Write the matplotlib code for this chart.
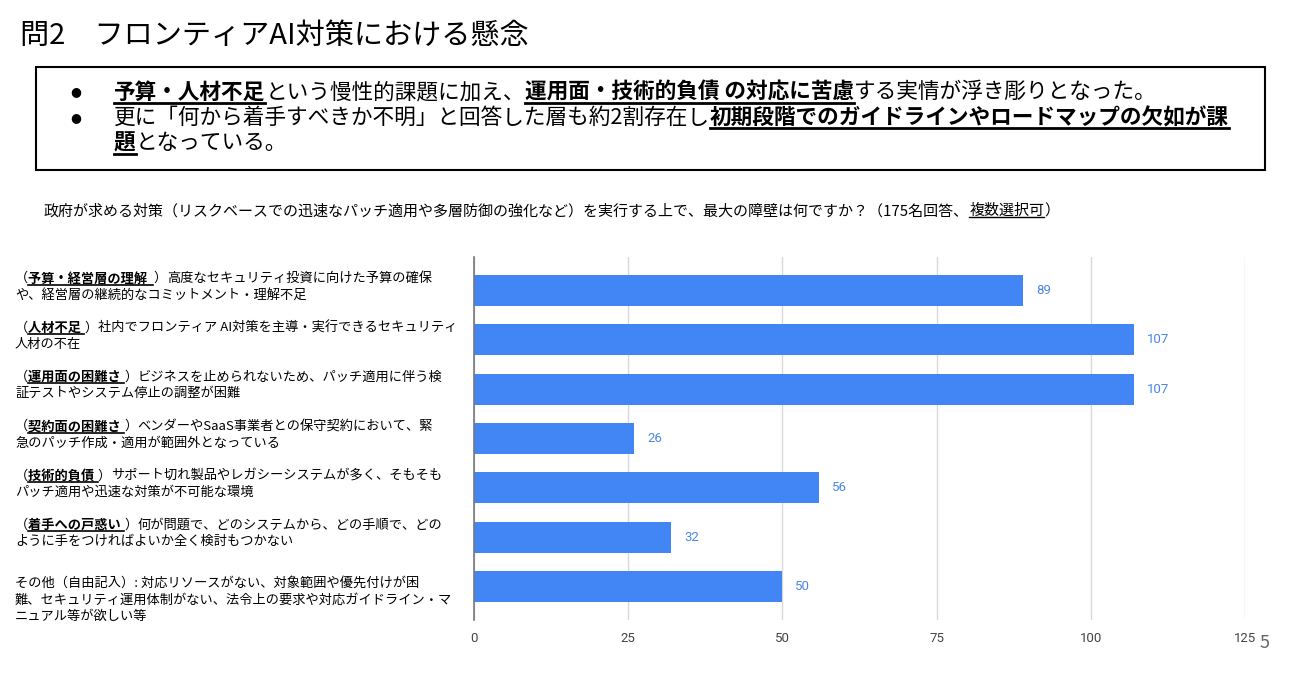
import matplotlib
matplotlib.use("Agg")
import matplotlib.pyplot as plt
import numpy as np
from matplotlib.lines import Line2D
from matplotlib.patches import Rectangle

plt.rcParams["font.family"] = ["Noto Sans CJK JP", "DejaVu Sans"]

W, H = 1300, 680

TITLE = "問2　フロンティアAI対策における懸念"
QUESTION = "政府が求める対策（リスクベースでの迅速なパッチ適用や多層防御の強化など）を実行する上で、最大の障壁は何ですか？（175名回答、"
QUESTION_UL = "複数選択可"

# summary box: each line is a list of (text, emphasised)
SUMMARY_LINES = [
    [("予算・人材不足", True), ("という慢性的課題に加え、", False),
     ("運用面・技術的負債 の対応に苦慮", True), ("する実情が浮き彫りとなった。", False)],
    [("更に「何から着手すべきか不明」と回答した層も約2割存在し", False),
     ("初期段階でのガイドラインやロードマップの欠如が課", True)],
    [("題", True), ("となっている。", False)],
]
SUMMARY_BULLETS = [True, True, False]

CATEGORY_KEYS = ["予算・経営層の理解  ", "人材不足 ", "運用面の困難さ ", "契約面の困難さ ",
                 "技術的負債 ", "着手への戸惑い ", ""]
CATEGORY_DESC = [
    ["高度なセキュリティ投資に向けた予算の確保", "や、経営層の継続的なコミットメント・理解不足"],
    ["社内でフロンティア AI対策を主導・実行できるセキュリティ", "人材の不在"],
    ["ビジネスを止められないため、パッチ適用に伴う検", "証テストやシステム停止の調整が困難"],
    ["ベンダーやSaaS事業者との保守契約において、緊", "急のパッチ作成・適用が範囲外となっている"],
    ["サポート切れ製品やレガシーシステムが多く、そもそも", "パッチ適用や迅速な対策が不可能な環境"],
    ["何が問題で、どのシステムから、どの手順で、どの", "ように手をつければよいか全く検討もつかない"],
    ["その他（自由記入）: 対応リソースがない、対象範囲や優先付けが困",
     "難、セキュリティ運用体制がない、法令上の要求や対応ガイドライン・マ",
     "ニュアル等が欲しい等"],
]
VALUES = [89, 107, 107, 26, 56, 32, 50]
X_TICKS = [0, 25, 50, 75, 100, 125]

BAR_COLOR = "#4285f4"
LABEL_COLOR = "#4a86e8"


def fx(x):
    return x / W


def fy(y):
    return 1 - y / H


def rich_line(fig, renderer, x, y, parts, size, ul_lw=1.5):
    """Draw mixed plain / bold-underlined text. x, y are px from top-left (y = line centre)."""
    for text, strong in parts:
        if not text:
            continue
        t = fig.text(fx(x), fy(y), text, fontsize=size, ha="left", va="center",
                     fontweight="bold" if strong else "normal", color="black")
        bb = t.get_window_extent(renderer)
        if strong:
            uy = (bb.y0 + 1) / H
            fig.add_artist(Line2D([bb.x0 / W, bb.x1 / W], [uy, uy],
                                  transform=fig.transFigure, color="black", lw=ul_lw))
        x = bb.x1
    return x


fig = plt.figure(figsize=(W / 100, H / 100), dpi=100)
renderer = fig.canvas.get_renderer()

# title
fig.text(fx(20), fy(36), TITLE, fontsize=21, ha="left", va="center")

# summary box
fig.add_artist(Rectangle((fx(36), fy(170)), fx(1265 - 36), (170 - 67) / H,
                         transform=fig.transFigure, fill=False, ec="black", lw=1.5))
for i, (parts, bullet) in enumerate(zip(SUMMARY_LINES, SUMMARY_BULLETS)):
    yy = 92 + i * 25.5
    if bullet:
        fig.text(fx(70), fy(yy), "●", fontsize=9, ha="left", va="center",
                 family="DejaVu Sans")
    rich_line(fig, renderer, 114, yy, parts, 15.6, ul_lw=2)

# question
xq = rich_line(fig, renderer, 44, 211, [(QUESTION, False)], 10.8)
t = fig.text(fx(xq), fy(211), QUESTION_UL, fontsize=10.8, ha="left", va="center")
bb = t.get_window_extent(renderer)
fig.add_artist(Line2D([bb.x0 / W, bb.x1 / W], [(bb.y0 + 1) / H] * 2,
                      transform=fig.transFigure, color="black", lw=1))
fig.text(bb.x1 / W, fy(211), "）", fontsize=10.8, ha="left", va="center")

# bar chart
ax = fig.add_axes([fx(474), fy(620), fx(1245 - 474), (620 - 257) / H])
pos = np.arange(len(VALUES))
ax.barh(pos, VALUES, height=0.63, color=BAR_COLOR, zorder=2)
ax.set_xlim(0, 125)
ax.set_ylim(len(VALUES) - 0.32, -0.68)
ax.set_xticks(X_TICKS)
ax.set_yticks([])
ax.grid(axis="x", color="#d9d9d9", lw=1, zorder=0)
for side in ["top", "right", "bottom"]:
    ax.spines[side].set_visible(False)
ax.spines["left"].set_color("#777777")
ax.spines["left"].set_linewidth(1.2)
ax.tick_params(axis="x", length=0, pad=9, labelsize=9.5, labelcolor="#444444")
for lab in ax.get_xticklabels():
    lab.set_family("Roboto")

for i, v in enumerate(VALUES):
    ax.annotate(str(v), (v, i), xytext=(13, 0), textcoords="offset pixels",
                ha="left", va="center", color=LABEL_COLOR, fontsize=9.5, family="Roboto")

# category labels on the left
for i, (key, desc) in enumerate(zip(CATEGORY_KEYS, CATEGORY_DESC)):
    bar_y = H - ax.transData.transform((0, i))[1]
    first = bar_y - 12 + 9 * (len(desc) - 2)
    for j, line in enumerate(desc):
        if j == 0 and key:
            parts = [("（", False), (key, True), ("）", False), (line, False)]
        else:
            parts = [(line, False)]
        rich_line(fig, renderer, 15, first + j * 16.5, parts, 9.5, ul_lw=1.2)

# page number
fig.text(fx(1265), fy(643), "5", fontsize=13, color="#666666", ha="center", va="center")

fig.savefig("out.png", dpi=100)
